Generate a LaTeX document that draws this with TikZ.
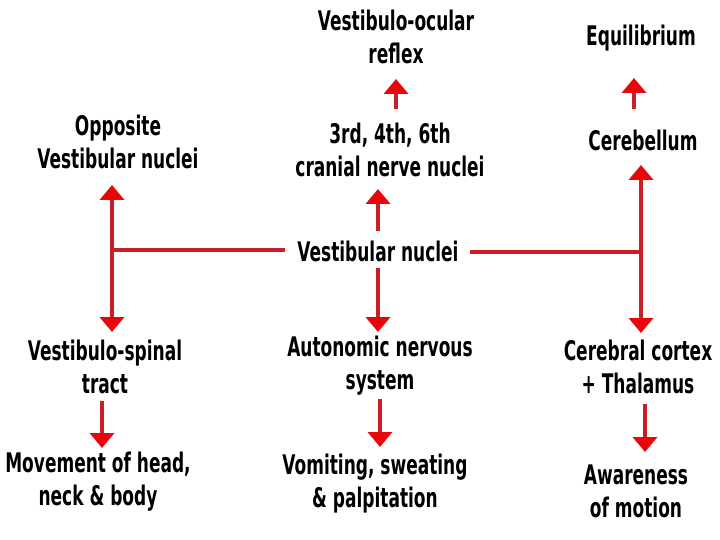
\documentclass[tikz,border=0pt]{standalone}
\usepackage{fontspec}
\setmainfont{DejaVu Sans Condensed}[BoldFont={DejaVu Sans Condensed Bold}, FakeStretch=0.70]
\usetikzlibrary{arrows.meta,calc}
\definecolor{lnred}{RGB}{200,32,38}
\definecolor{tipred}{RGB}{232,6,10}
\tikzset{
  lbl/.style={align=center, font=\bfseries\fontsize{27}{33}\selectfont, inner sep=0pt},
  arr/.style={draw=lnred, line width=4.5pt, -{Triangle[width=24pt,length=15pt,color=tipred,fill=tipred]}},
  darr/.style={draw=lnred, line width=4.5pt, {Triangle[width=24pt,length=15pt,color=tipred,fill=tipred]}-{Triangle[width=24pt,length=15pt,color=tipred,fill=tipred]}},
  ln/.style={draw=lnred, line width=4.5pt}
}
\begin{document}
\begin{tikzpicture}[x=1pt,y=-1pt]
\useasboundingbox (0,0) rectangle (720,540);
% nodes
\node[lbl] (vor) at (396,37) {Vestibulo-ocular\\reflex};
\node[lbl] (cnn) at (390,150) {3rd, 4th, 6th\\cranial nerve nuclei};
\node[lbl] (vn)  at (378,251) {Vestibular nuclei};
\node[lbl] (ans) at (380,366) {Autonomic nervous\\system};
\node[lbl] (vom) at (375,484) {Vomiting, sweating\\\& palpitation};
\node[lbl] (opp) at (118,142) {Opposite\\Vestibular nuclei};
\node[lbl] (vst) at (105,367) {Vestibulo-spinal\\tract};
\node[lbl] (mov) at (98,482) {Movement of head,\\neck \& body};
\node[lbl] (equ) at (641,38) {Equilibrium};
\node[lbl] (cer) at (643,140) {Cerebellum};
\node[lbl] (cct) at (638,367) {Cerebral cortex\\+ Thalamus};
\node[lbl] (awa) at (636,491) {Awareness\\of motion};
\coordinate (L) at (112,250);
\coordinate (R) at (641,252);
% connectors
\draw[arr] ($(cnn.center)+(6,-41)$) -- ($(vor.center)+(0,42)$);
\draw[arr] ($(vn.center)+(0,-20)$) -- ($(cnn.center)+(-12,39)$);
\draw[arr] ($(vn.center)+(0,17)$) -- ($(ans.center)+(-2,-34)$);
\draw[arr] ($(ans.center)+(0,33)$) -- ($(vom.center)+(5,-37)$);
\draw[ln] (L) -- ($(vn.center)+(-93,-1)$);
\draw[darr] ($(opp.center)+(-6,43)$) -- ($(vst.center)+(7,-35)$);
\draw[arr] ($(vst.center)+(-3,34)$) -- ($(mov.center)+(4,-34)$);
\draw[ln] ($(vn.center)+(92,1)$) -- (R);
\draw[darr] ($(cer.center)+(-2,25)$) -- ($(cct.center)+(3,-34)$);
\draw[arr] ($(cer.center)+(-9,-31)$) -- ($(equ.center)+(-7,40)$);
\draw[arr] ($(cct.center)+(7,37)$) -- ($(awa.center)+(9,-39)$);
\end{tikzpicture}
\end{document}
